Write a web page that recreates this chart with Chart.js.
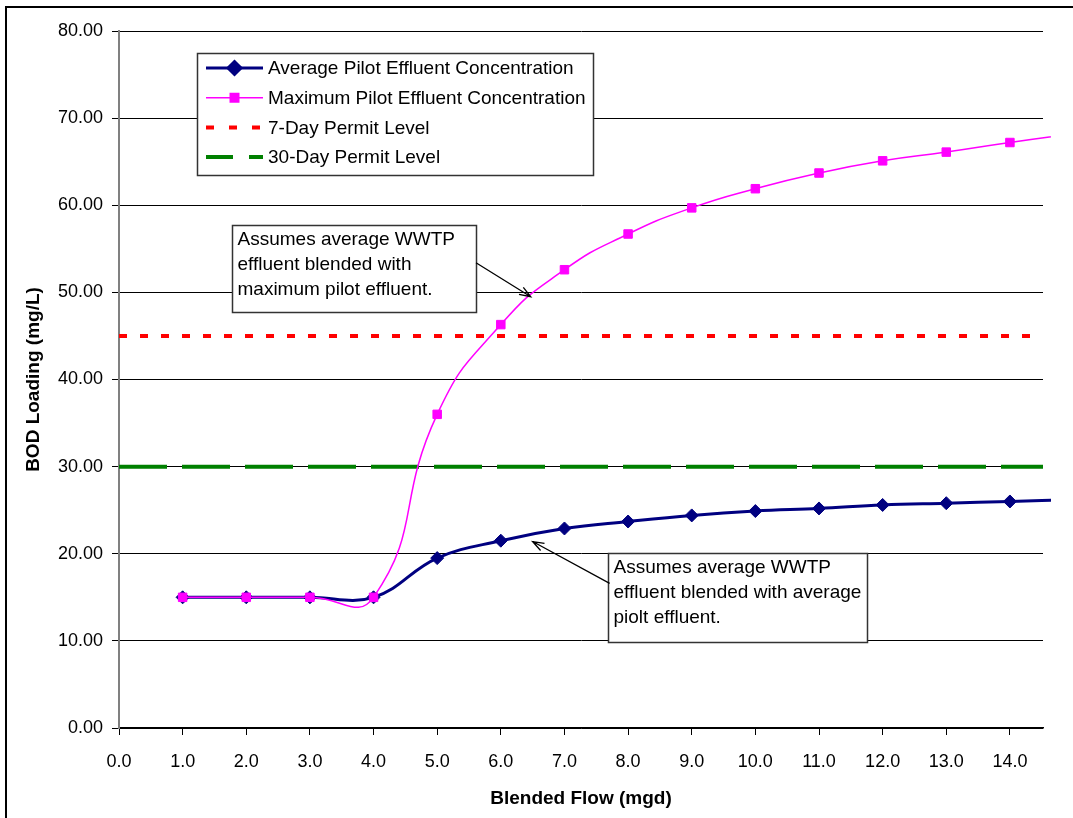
<!DOCTYPE html>
<html lang="en">
<head>
  <meta charset="UTF-8" />
  <title>BOD Loading vs Blended Flow</title>
  <script src="https://cdn.jsdelivr.net/npm/chart.js"></script>
  <style>
    * { margin: 0; padding: 0; box-sizing: border-box; }
    body { background: #fff; width: 1073px; height: 818px; overflow: hidden; position: relative; }
    .frame {
      position: absolute; left: 5px; top: 6px; width: 1200px; height: 900px;
      border-left: 2px solid #000; border-top: 2px solid #000;
    }
    #chart { position: absolute; left: 0; top: 0; }
  </style>
</head>
<body>
  <div class="frame"></div>
  <canvas id="chart" width="1073" height="818"></canvas>

  <script>
    // data
    const flow = [1, 2, 3, 4, 5, 6, 7, 8, 9, 10, 11, 12, 13, 14, 15];
    const avgConc = [15.0, 15.0, 15.0, 15.0, 19.5, 21.5, 22.9, 23.7, 24.4, 24.9, 25.2, 25.6, 25.8, 26.0, 26.2];
    const maxConc = [15.0, 15.0, 15.0, 15.0, 36.0, 46.3, 52.6, 56.7, 59.7, 61.9, 63.7, 65.1, 66.1, 67.2, 68.2];
    const permitFlow = [0, 15];
    const permit7Day = [45, 45];
    const permit30Day = [30, 30];
    const yTicks = [0, 10, 20, 30, 40, 50, 60, 70, 80];
    const xTicks = [0, 1, 2, 3, 4, 5, 6, 7, 8, 9, 10, 11, 12, 13, 14];

    const FONT = '"Liberation Sans", Arial, sans-serif';

    const toPoints = (xs, ys) => xs.map((x, i) => ({ x: x, y: ys[i] }));

    // text boxes with arrows, given in axis units
    const notes = [
      {
        lines: ['Assumes average WWTP', 'effluent blended with', 'maximum pilot effluent.'],
        box: [1.78, 57.7, 5.61, 47.75],
        from: [5.61, 53.4], to: [6.47, 49.5]
      },
      {
        lines: ['Assumes average WWTP', 'effluent blended with average', 'piolt effluent.'],
        box: [7.68, 20.1, 11.75, 9.85],
        from: [7.71, 16.6], to: [6.5, 21.4]
      }
    ];

    const notesPlugin = {
      id: 'notes',
      afterDatasetsDraw(chart) {
        const { ctx, scales: { x, y } } = chart;
        ctx.save();
        notes.forEach(n => {
          const x0 = Math.round(x.getPixelForValue(n.box[0])) + 0.5;
          const y0 = Math.round(y.getPixelForValue(n.box[1])) + 0.5;
          const x1 = Math.round(x.getPixelForValue(n.box[2])) + 0.5;
          const y1 = Math.round(y.getPixelForValue(n.box[3])) + 0.5;
          ctx.fillStyle = '#fff';
          ctx.fillRect(x0, y0, x1 - x0, y1 - y0);
          ctx.strokeStyle = '#333';
          ctx.lineWidth = 1.5;
          ctx.strokeRect(x0, y0, x1 - x0, y1 - y0);
          ctx.fillStyle = '#000';
          ctx.font = '19px ' + FONT;
          ctx.textBaseline = 'middle';
          ctx.textAlign = 'left';
          n.lines.forEach((t, i) => ctx.fillText(t, x0 + 5, y0 + 14 + i * 25));

          // arrow
          const fx = x.getPixelForValue(n.from[0]), fy = y.getPixelForValue(n.from[1]);
          const tx = x.getPixelForValue(n.to[0]), ty = y.getPixelForValue(n.to[1]);
          const ang = Math.atan2(ty - fy, tx - fx);
          ctx.strokeStyle = '#000';
          ctx.lineWidth = 1.3;
          ctx.beginPath();
          ctx.moveTo(fx, fy);
          ctx.lineTo(tx, ty);
          ctx.moveTo(tx - 12 * Math.cos(ang - 0.35), ty - 12 * Math.sin(ang - 0.35));
          ctx.lineTo(tx, ty);
          ctx.lineTo(tx - 12 * Math.cos(ang + 0.35), ty - 12 * Math.sin(ang + 0.35));
          ctx.stroke();
        });
        ctx.restore();
      }
    };

    // Excel style legend box inside the plot
    const legendPlugin = {
      id: 'boxLegend',
      afterDraw(chart) {
        const { ctx } = chart;
        const bx = 197.5, by = 53.5, bw = 396, bh = 122;
        ctx.save();
        ctx.fillStyle = '#fff';
        ctx.fillRect(bx, by, bw, bh);
        ctx.strokeStyle = '#333';
        ctx.lineWidth = 1.5;
        ctx.strokeRect(bx, by, bw, bh);
        chart.data.datasets.forEach((ds, i) => {
          const cy = 68 + i * 29.7;
          ctx.strokeStyle = ds.borderColor;
          ctx.lineWidth = ds.borderWidth;
          ctx.setLineDash(ds.legendDash || []);
          ctx.beginPath();
          ctx.moveTo(206, cy);
          ctx.lineTo(263, cy);
          ctx.stroke();
          ctx.setLineDash([]);
          if (ds.pointRadius) {
            Chart.helpers.drawPoint(ctx, {
              pointStyle: ds.pointStyle, radius: ds.pointRadius, borderWidth: 1, rotation: 0
            }, 234.5, cy);
            ctx.fillStyle = ds.pointBackgroundColor;
            ctx.fill();
          }
          ctx.fillStyle = '#000';
          ctx.font = '19px ' + FONT;
          ctx.textBaseline = 'middle';
          ctx.fillText(ds.label, 268, cy + 1);
        });
        ctx.restore();
      }
    };

    new Chart(document.getElementById('chart'), {
      type: 'line',
      data: {
        datasets: [
          {
            label: 'Average Pilot Effluent Concentration',
            data: toPoints(flow, avgConc),
            borderColor: '#000080', borderWidth: 3,
            pointStyle: 'rectRot', pointRadius: 6.5,
            pointBackgroundColor: '#000080', pointBorderColor: '#000080', pointBorderWidth: 1,
            tension: 0.4, order: 2,
            clip: { left: 0, top: 0, right: 8, bottom: 0 }
          },
          {
            label: 'Maximum Pilot Effluent Concentration',
            data: toPoints(flow, maxConc),
            borderColor: '#FF00FF', borderWidth: 1.5,
            pointStyle: 'rect', pointRadius: 6,
            pointBackgroundColor: '#FF00FF', pointBorderColor: '#FF00FF', pointBorderWidth: 1,
            tension: 0.5, order: 1,
            clip: { left: 0, top: 0, right: 8, bottom: 0 }
          },
          {
            label: '7-Day Permit Level',
            data: toPoints(permitFlow, permit7Day),
            borderColor: '#FF0000', borderWidth: 4, borderDash: [8, 13],
            legendDash: [8, 15],
            borderCapStyle: 'butt',
            pointRadius: 0, order: 3, clip: 0
          },
          {
            label: '30-Day Permit Level',
            data: toPoints(permitFlow, permit30Day),
            borderColor: '#008000', borderWidth: 4, borderDash: [48, 15],
            legendDash: [27, 16],
            borderCapStyle: 'butt',
            pointRadius: 0, order: 4, clip: 0
          }
        ]
      },
      options: {
        responsive: false,
        animation: false,
        devicePixelRatio: 1,
        layout: { padding: { left: 18, right: 30, top: 31, bottom: 4 } },
        plugins: { legend: { display: false }, tooltip: { enabled: false } },
        scales: {
          x: {
            type: 'linear', min: 0, max: 14.52,
            afterBuildTicks: s => { s.ticks = xTicks.map(v => ({ value: v })); },
            afterFit: s => { s.height = 818 - 728 - 4; },
            ticks: {
              includeBounds: false, color: '#000', padding: 16,
              font: { family: FONT, size: 18 },
              callback: v => Number(v).toFixed(1)
            },
            grid: { drawOnChartArea: false, color: '#000', tickLength: 7 },
            border: { color: '#000', width: 1.5 },
            title: {
              display: true, text: 'Blended Flow (mgd)', color: '#000',
              font: { family: FONT, size: 19, weight: 'bold' }, padding: { top: 4 }
            }
          },
          y: {
            min: 0, max: 80,
            afterBuildTicks: s => { s.ticks = yTicks.map(v => ({ value: v })); },
            afterFit: s => { s.width = 119 - 18; },
            ticks: {
              color: '#000', padding: 9,
              font: { family: FONT, size: 18 },
              callback: v => Number(v).toFixed(2)
            },
            grid: { color: '#000', lineWidth: 1, tickLength: 7 },
            border: { color: '#808080', width: 2 },
            title: {
              display: true, text: 'BOD Loading (mg/L)', color: '#000',
              font: { family: FONT, size: 19, weight: 'bold' }, padding: { bottom: 0 }
            }
          }
        }
      },
      plugins: [notesPlugin, legendPlugin]
    });
  </script>
</body>
</html>
